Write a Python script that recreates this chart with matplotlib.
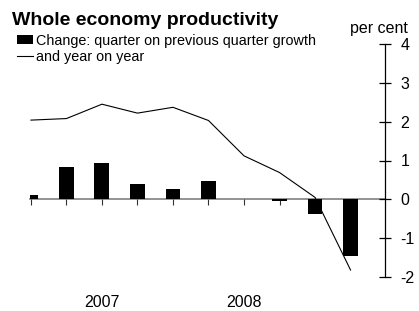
import matplotlib
matplotlib.use("Agg")
import matplotlib.pyplot as plt
import numpy as np

plt.rcParams["font.family"] = ["Liberation Sans", "DejaVu Sans"]

# quarterly data, 2006 Q3 .. 2008 Q4
quarters = ["2006Q3", "2006Q4", "2007Q1", "2007Q2", "2007Q3", "2007Q4",
            "2008Q1", "2008Q2", "2008Q3", "2008Q4"]
q_on_q = [0.11, 0.82, 0.94, 0.39, 0.26, 0.48, 0.02, -0.04, -0.38, -1.45]
y_on_y = [2.04, 2.08, 2.45, 2.22, 2.37, 2.03, 1.12, 0.69, 0.05, -1.82]
year_labels = ["2007", "2008"]
year_pos = [2, 6]
yticks = [-2, -1, 0, 1, 2, 3, 4]

W, H = 419, 311
fig = plt.figure(figsize=(W / 100, H / 100), dpi=100)
ax = fig.add_axes([29.5 / W, (H - 277) / H, (385 - 29.5) / W, (277 - 44) / H])

x = np.arange(len(quarters))
bars = ax.bar(x, q_on_q, width=0.42, color="black", zorder=2,
              label="Change: quarter on previous quarter growth")
line, = ax.plot(x, y_on_y, color="black", lw=0.8, zorder=3,
                label="and year on year")

ax.set_xlim(-0.04, 9.97)
ax.set_ylim(-2, 4)

# right hand scale
ax.yaxis.tick_right()
ax.set_yticks(yticks)
ax.set_yticklabels([str(v) for v in yticks])
ax.tick_params(axis="y", direction="inout", length=8.6, width=0.9,
               pad=7, labelsize=11.5, colors="black")
for s in ["top", "left"]:
    ax.spines[s].set_visible(False)
ax.spines["right"].set_linewidth(0.9)

# zero line carries the quarter ticks
ax.spines["bottom"].set_position(("data", 0))
ax.spines["bottom"].set_color("#808080")
ax.spines["bottom"].set_linewidth(1.2)
ax.spines["bottom"].set_zorder(1)
ax.set_xticks(x)
ax.set_xticklabels([])
ax.tick_params(axis="x", direction="out", length=4, width=0.8, color="#333333")

for lab, p in zip(year_labels, year_pos):
    ax.annotate(lab, xy=(p, 0), xycoords=("data", "axes fraction"),
                xytext=(0, -18.5), textcoords="offset points",
                ha="center", va="center", fontsize=11.5)

fig.text(12 / W, 1 - 25 / H, "Whole economy productivity", fontsize=14,
         fontweight="bold", va="baseline", ha="left")
fig.text(350 / W, 1 - 33 / H, "per cent", fontsize=11.5, va="baseline", ha="left")

leg = fig.legend(handles=[bars, line], loc="upper left",
                 bbox_to_anchor=(17 / W, 1 - 33.5 / H), frameon=False,
                 fontsize=10.4, borderpad=0, borderaxespad=0,
                 handlelength=1.1, handleheight=0.55, handletextpad=0.2,
                 labelspacing=0.17)

fig.savefig("out.png", dpi=100)
